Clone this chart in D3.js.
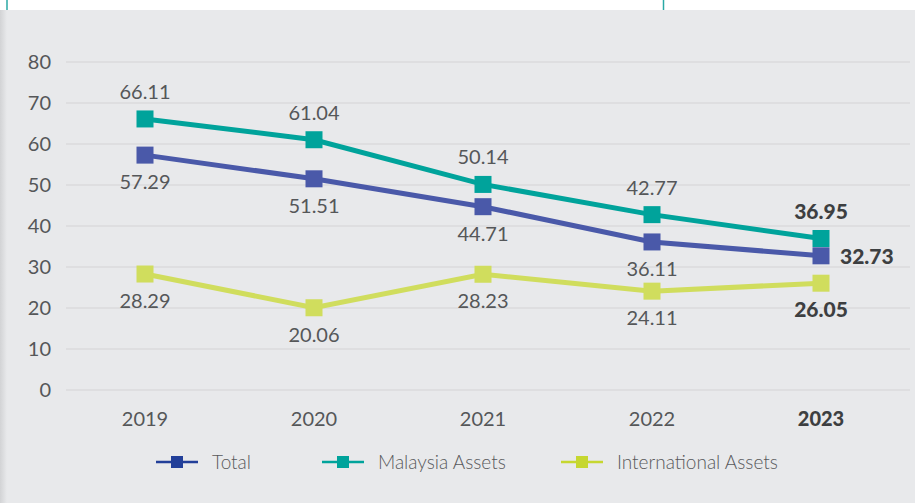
<!DOCTYPE html>
<html>
<head>
<meta charset="utf-8">
<script src="https://cdn.jsdelivr.net/npm/d3@7"></script>
<style>
  body { margin: 0; background: #fff; }
  svg { display: block; font-family: Lato, "Open Sans", sans-serif; }
</style>
</head>
<body>
<svg id="canvas" width="915" height="503"></svg>
<script>
let years = ["2019", "2020", "2021", "2022", "2023"]
let total = [57.29, 51.51, 44.71, 36.11, 32.73]
let malaysia = [66.11, 61.04, 50.14, 42.77, 36.95]
let international = [28.29, 20.06, 28.23, 24.11, 26.05]
let yTicks = [0, 10, 20, 30, 40, 50, 60, 70, 80]

let seriesList = [
  {name: "Total", values: total, color: "#4a59a9", legend: "#223f99", label: "below"},
  {name: "Malaysia Assets", values: malaysia, color: "#00a39b", legend: "#00a39b", label: "above"},
  {name: "International Assets", values: international, color: "#d0dd5d", legend: "#c6d730", label: "below"}
]

let svg = d3.select('#canvas')

// background panel
svg.append('rect').attr('x', 0).attr('y', 0).attr('width', 915).attr('height', 503).attr('fill', '#e8e9eb')
svg.append('rect').attr('x', 0).attr('y', 0).attr('width', 915).attr('height', 10).attr('fill', '#ffffff')
let grad = svg.append('defs').append('linearGradient').attr('id', 'edge')
grad.append('stop').attr('offset', '0%').attr('stop-color', '#d2d3d5')
grad.append('stop').attr('offset', '100%').attr('stop-color', '#e8e9eb')
svg.append('rect').attr('x', 0).attr('y', 10).attr('width', 7).attr('height', 493).attr('fill', 'url(#edge)')
svg.append('line').attr('x1', 7).attr('x2', 7).attr('y1', 0).attr('y2', 10).attr('stroke', '#2aa9a5').attr('stroke-width', 1.5)
svg.append('line').attr('x1', 663.5).attr('x2', 663.5).attr('y1', 0).attr('y2', 10).attr('stroke', '#2aa9a5').attr('stroke-width', 1.5)

let xScale = d3.scalePoint().domain(years).range([145, 821])
let yScale = d3.scaleLinear().domain([0, 80]).range([390, 62])
let last = years.length - 1

// grid
svg.append('g').selectAll('line')
  .data(yTicks)
  .enter()
  .append('line')
  .attr('x1', 66).attr('x2', 910)
  .attr('y1', (d) => yScale(d)).attr('y2', (d) => yScale(d))
  .attr('stroke', '#d3d4d6').attr('stroke-width', 1.2)

// y axis labels
svg.append('g').selectAll('text')
  .data(yTicks)
  .enter()
  .append('text')
  .attr('x', 51)
  .attr('y', (d) => yScale(d))
  .attr('dy', '0.35em')
  .attr('text-anchor', 'end')
  .attr('font-size', 20)
  .attr('fill', '#555759')
  .text((d) => d)

// x axis labels
svg.append('g').selectAll('text')
  .data(years)
  .enter()
  .append('text')
  .attr('x', (d) => xScale(d))
  .attr('y', 426)
  .attr('text-anchor', 'middle')
  .attr('font-size', 20)
  .attr('font-weight', (d, i) => i === last ? 900 : 'normal')
  .attr('fill', (d, i) => i === last ? '#3d3f41' : '#555759')
  .text((d) => d)

let line = d3.line()
  .x((d, i) => xScale(years[i]))
  .y((d) => yScale(d))

// draw international first, then total, then malaysia
let drawOrder = [seriesList[2], seriesList[0], seriesList[1]]
drawOrder.forEach((s) => {
  svg.append('path')
    .datum(s.values)
    .attr('d', line)
    .attr('fill', 'none')
    .attr('stroke', s.color)
    .attr('stroke-width', 5)
  svg.append('g').selectAll('rect')
    .data(s.values)
    .enter()
    .append('rect')
    .attr('x', (d, i) => xScale(years[i]) - 8.5)
    .attr('y', (d) => yScale(d) - 8.5)
    .attr('width', 17).attr('height', 17)
    .attr('fill', s.color)
})

// data labels
seriesList.forEach((s) => {
  let side = (i) => s.name === "Total" && i === last
  svg.append('g').selectAll('text')
    .data(s.values)
    .enter()
    .append('text')
    .attr('x', (d, i) => side(i) ? xScale(years[i]) + 19 : xScale(years[i]))
    .attr('y', (d, i) => {
      if (side(i)) return yScale(d) + 8
      return s.label === "above" ? yScale(d) - 20 : yScale(d) + 34
    })
    .attr('text-anchor', (d, i) => side(i) ? 'start' : 'middle')
    .attr('font-size', (d, i) => i === last ? 21 : 20)
    .attr('font-weight', (d, i) => i === last ? 900 : 'normal')
    .attr('fill', (d, i) => i === last ? '#3d3f41' : '#555759')
    .text((d) => d.toFixed(2))
})

// legend
let legendX = [156, 322, 561]
let legend = svg.append('g').selectAll('g')
  .data(seriesList)
  .enter()
  .append('g')
  .attr('transform', (d, i) => 'translate(' + legendX[i] + ', 462)')

legend.append('line')
  .attr('x1', 0).attr('x2', 42).attr('y1', 0).attr('y2', 0)
  .attr('stroke', (d) => d.legend).attr('stroke-width', 2.5)
legend.append('rect')
  .attr('x', 15).attr('y', -6).attr('width', 12).attr('height', 12)
  .attr('fill', (d) => d.legend)
legend.append('text')
  .attr('x', 56).attr('y', 0).attr('dy', '0.35em')
  .attr('font-size', 19)
  .attr('font-weight', 300)
  .attr('fill', '#58595b')
  .text((d) => d.name)
</script>
</body>
</html>
